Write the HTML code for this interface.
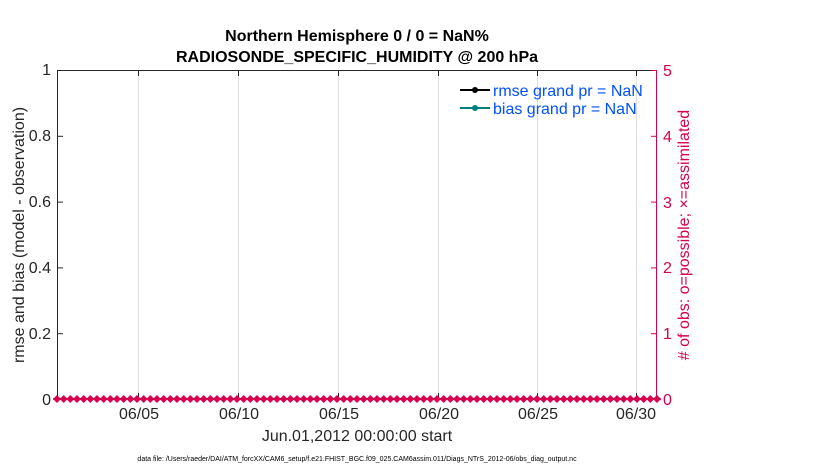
<!DOCTYPE html>
<html><head><style>body{margin:0;background:#fff}svg{display:block}</style></head><body>
<svg width="830" height="470" xmlns="http://www.w3.org/2000/svg" font-family="Liberation Sans, sans-serif">
<defs>
<pattern id="dm" patternUnits="userSpaceOnUse" x="53.6667" y="395" width="6.6667" height="8">
<polygon points="-0.6,4 3.3333,0 7.27,4 3.3333,8" fill="#d6004f"/>
</pattern>
</defs>
<rect width="830" height="470" fill="#fff"/>
<g stroke="#dfdfdf" stroke-width="1">
<line x1="138.5" y1="70" x2="138.5" y2="399"/><line x1="238.5" y1="70" x2="238.5" y2="399"/><line x1="338.5" y1="70" x2="338.5" y2="399"/><line x1="438.5" y1="70" x2="438.5" y2="399"/><line x1="537.5" y1="70" x2="537.5" y2="399"/><line x1="636.5" y1="70" x2="636.5" y2="399"/>
</g>
<g stroke="#262626" stroke-width="1">
<line x1="57.5" y1="70" x2="57.5" y2="399"/><line x1="57" y1="70.5" x2="657" y2="70.5"/><line x1="57" y1="399.5" x2="657" y2="399.5"/>
<line x1="57" y1="136.3" x2="63" y2="136.3"/><line x1="57" y1="202.1" x2="63" y2="202.1"/><line x1="57" y1="267.9" x2="63" y2="267.9"/><line x1="57" y1="333.7" x2="63" y2="333.7"/>
<line x1="138.5" y1="70" x2="138.5" y2="76"/><line x1="238.5" y1="70" x2="238.5" y2="76"/><line x1="338.5" y1="70" x2="338.5" y2="76"/><line x1="438.5" y1="70" x2="438.5" y2="76"/><line x1="537.5" y1="70" x2="537.5" y2="76"/><line x1="636.5" y1="70" x2="636.5" y2="76"/>
<line x1="138.5" y1="399" x2="138.5" y2="393"/><line x1="238.5" y1="399" x2="238.5" y2="393"/><line x1="338.5" y1="399" x2="338.5" y2="393"/><line x1="438.5" y1="399" x2="438.5" y2="393"/><line x1="537.5" y1="399" x2="537.5" y2="393"/><line x1="636.5" y1="399" x2="636.5" y2="393"/>
</g>
<g stroke="#d6004f" stroke-width="1">
<line x1="656.5" y1="70" x2="656.5" y2="399"/>
<line x1="651" y1="136.3" x2="657" y2="136.3"/><line x1="651" y1="202.1" x2="657" y2="202.1"/><line x1="651" y1="267.9" x2="657" y2="267.9"/><line x1="651" y1="333.7" x2="657" y2="333.7"/><line x1="651" y1="70.5" x2="657" y2="70.5"/>
</g>
<line x1="57" y1="399" x2="657" y2="399" stroke="#d6004f" stroke-width="2"/>
<rect x="53" y="395" width="608" height="8" fill="url(#dm)"/>
<g font-size="16" fill="#262626" text-anchor="end">
<text x="51" y="75">1</text><text x="51" y="141">0.8</text><text x="51" y="207">0.6</text><text x="51" y="273">0.4</text><text x="51" y="339">0.2</text><text x="51" y="405">0</text>
</g>
<g font-size="16" fill="#d6004f">
<text x="663" y="76">5</text><text x="663" y="142">4</text><text x="663" y="208">3</text><text x="663" y="273">2</text><text x="663" y="339">1</text><text x="663" y="405">0</text>
</g>
<g font-size="16" fill="#262626" text-anchor="middle">
<text x="139" y="419">06/05</text><text x="239" y="419">06/10</text><text x="339" y="419">06/15</text><text x="439" y="419">06/20</text><text x="538" y="419">06/25</text><text x="636" y="419">06/30</text>
<text x="357" y="441">Jun.01,2012 00:00:00 start</text>
</g>
<g font-size="16" font-weight="bold" fill="#000" text-anchor="middle">
<text x="357" y="41">Northern Hemisphere 0 / 0 = NaN%</text>
<text x="357" y="62">RADIOSONDE_SPECIFIC_HUMIDITY @ 200 hPa</text>
</g>
<text transform="translate(24,235) rotate(-90)" font-size="16" fill="#262626" text-anchor="middle">rmse and bias (model - observation)</text>
<text transform="translate(689,235) rotate(-90)" font-size="16" fill="#d6004f" text-anchor="middle"># of obs: o=possible; ×=assimilated</text>
<line x1="460" y1="90" x2="490" y2="90" stroke="#000" stroke-width="2"/><circle cx="475" cy="90" r="3" fill="#000"/>
<line x1="460" y1="108" x2="490" y2="108" stroke="#008080" stroke-width="2"/><circle cx="475" cy="108" r="3" fill="#008080"/>
<g font-size="16" fill="#0050ff"><text x="493" y="96">rmse grand pr = NaN</text><text x="493" y="114">bias grand pr = NaN</text></g>
<text x="357" y="461" font-size="7" fill="#000" text-anchor="middle">data file: /Users/raeder/DAI/ATM_forcXX/CAM6_setup/f.e21.FHIST_BGC.f09_025.CAM6assim.011/Diags_NTrS_2012-06/obs_diag_output.nc</text>
</svg>
</body></html>
